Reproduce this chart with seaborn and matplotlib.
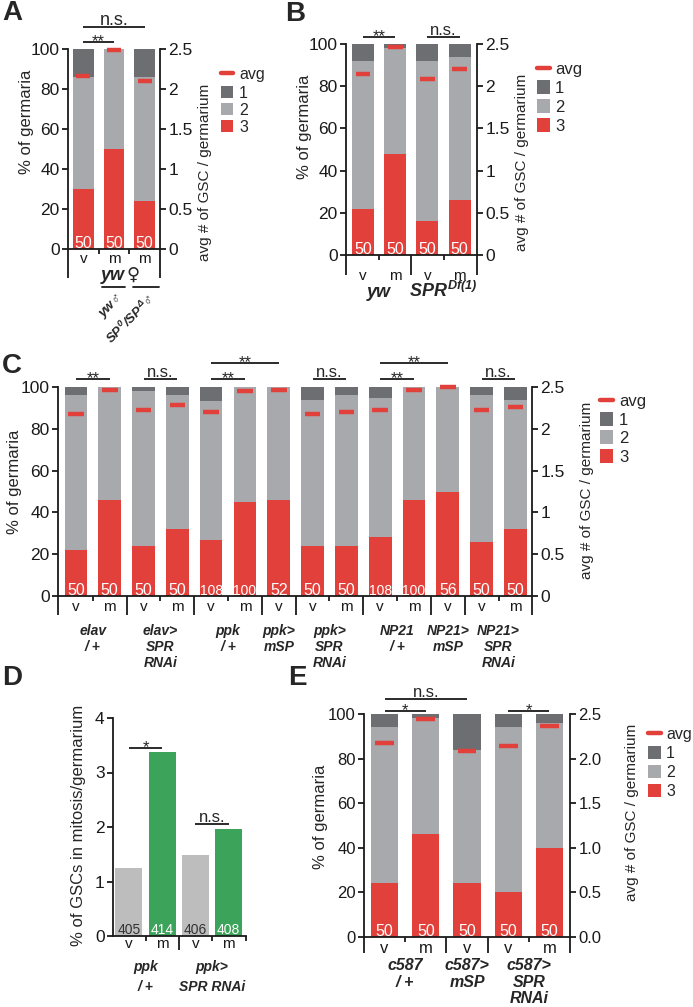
import numpy as np
import pandas as pd
import matplotlib
matplotlib.use("Agg")
import matplotlib.pyplot as plt
import seaborn as sns
from matplotlib.patches import Rectangle
from matplotlib.lines import Line2D

# ---------------- data ----------------
A_xlab = ["v", "m", "m"]
A_three = [30, 50, 24]
A_two = [56, 50, 62]
A_one = [14, 0, 14]
A_avg = [2.16, 2.49, 2.10]
A_n = ["50", "50", "50"]

B_xlab = ["v", "m", "v", "m"]
B_three = [22, 48, 16, 26]
B_two = [70, 50, 76, 68]
B_one = [8, 2, 8, 6]
B_avg = [2.14, 2.46, 2.08, 2.20]
B_n = ["50", "50", "50", "50"]
B_groups = ["yw", "$SPR^{Df(1)}$"]
B_spans = [(0, 1), (2, 3)]

C_xlab = ["v", "m", "v", "m", "v", "m", "v", "v", "m", "v", "m", "v", "v", "m"]
C_three = [22, 46, 24, 32, 27, 45, 46, 24, 24, 28, 46, 50, 26, 32]
C_two = [74, 54, 74, 64, 66.5, 55, 54, 70, 72, 66.5, 54, 50, 70, 62]
C_one = [4, 0, 2, 4, 6.5, 0, 0, 6, 4, 5.5, 0, 0, 4, 6]
C_avg = [2.18, 2.46, 2.22, 2.28, 2.20, 2.45, 2.46, 2.18, 2.20, 2.23, 2.46, 2.50, 2.22, 2.26]
C_n = ["50", "50", "50", "50", "108", "100", "52", "50", "50", "108", "100", "56", "50", "50"]
C_groups = ["elav\n/ +", "elav>\nSPR\nRNAi", "ppk\n/ +", "ppk>\nmSP", "ppk>\nSPR\nRNAi",
            "NP21\n/ +", "NP21>\nmSP", "NP21>\nSPR\nRNAi"]
C_spans = [(0, 1), (2, 3), (4, 5), (6, 6), (7, 8), (9, 10), (11, 11), (12, 13)]

D_xlab = ["v", "m", "v", "m"]
D_pct = [1.24, 3.37, 1.48, 1.97]
D_n = ["405", "414", "406", "408"]
D_groups = ["ppk\n/ +", "ppk>\nSPR RNAi"]
D_spans = [(0, 1), (2, 3)]

E_xlab = ["v", "m", "v", "v", "m"]
E_three = [24, 46, 24, 20, 40]
E_two = [70, 52, 60, 74, 56]
E_one = [6, 2, 16, 6, 4]
E_avg = [2.18, 2.44, 2.08, 2.14, 2.36]
E_n = ["50", "50", "50", "50", "50"]
E_groups = ["c587\n/ +", "c587>\nmSP", "c587>\nSPR\nRNAi"]
E_spans = [(0, 1), (2, 2), (3, 4)]

A_sig = [(0, 1, 103.5, "**"), (0, 2, 111, "n.s.")]
B_sig = [(0, 1, 103.5, "**"), (2, 3, 103.5, "n.s.")]
C_sig = [(0, 1, 104, "**"), (2, 3, 104, "n.s."), (4, 5, 104, "**"), (4, 6, 111.5, "**"),
         (7, 8, 104, "n.s."), (9, 10, 104, "**"), (9, 11, 111.5, "**"), (12, 13, 104, "n.s.")]
D_sig = [(0, 1, 3.45, "*"), (2, 3, 2.06, "n.s.")]
E_sig = [(0, 1, 101.5, "*"), (0, 2, 106.7, "n.s."), (3, 4, 101.5, "*")]

legend_labels = ["avg", "1", "2", "3"]

# ---------------- style ----------------
RED = "#e2403a"
DARK = "#6d6e71"
LIGHT = "#a7a9ac"
DGRAY = "#bdbdbd"
GREEN = "#3ba35a"
LW = 1.3

sns.set_theme(style="ticks")
plt.rcParams["font.family"] = ["Liberation Sans", "DejaVu Sans"]
plt.rcParams["mathtext.fontset"] = "custom"
plt.rcParams["mathtext.it"] = "Liberation Sans:italic:bold"
plt.rcParams["mathtext.rm"] = "Liberation Sans:italic:bold"
plt.rcParams["mathtext.bf"] = "Liberation Sans:italic:bold"
plt.rcParams["mathtext.fallback"] = "stixsans"

W, H = 693, 1007
fig = plt.figure(figsize=(W / 100, H / 100), dpi=100)


def add_ax(x0, x1, y0, y1):
    return fig.add_axes([x0 / W, 1 - y1 / H, (x1 - x0) / W, (y1 - y0) / H])


def fx(px):
    return px / W


def fy(py):
    return 1 - py / H


def ax_frac(ax, px):
    return px / (ax.get_position().height * H)


def down_line(ax, x, px):
    ax.plot([x, x], [0, -ax_frac(ax, px)], transform=ax.get_xaxis_transform(),
            color="k", lw=LW, clip_on=False, solid_capstyle="butt")


def below_text(ax, x, px, s, size, **kw):
    # px = distance (pixels) from the axis line to the first text baseline
    if "\n" in s:
        off = px - 0.74 * size * 100 / 72
        va = "top"
    else:
        off = px
        va = "baseline"
    ax.annotate(s, xy=(x, 0), xycoords=ax.get_xaxis_transform(),
                xytext=(0, -off * 0.72), textcoords="offset points",
                ha="center", va=va, fontsize=size, **kw)


def sig(ax, i, j, y, s, size):
    ax.plot([i, j], [y, y], color="k", lw=LW, clip_on=False, solid_capstyle="butt")
    off = -3.0 if "*" in s else 1.5
    ax.annotate(s, xy=((i + j) / 2, y), xycoords="data", xytext=(0, off),
                textcoords="offset points", ha="center", va="baseline",
                fontsize=size, annotation_clip=False)


def base_style(ax, tick_size=12.5):
    for s in ["top", "right"]:
        ax.spines[s].set_visible(False)
    for s in ["left", "bottom"]:
        ax.spines[s].set_linewidth(LW)
        ax.spines[s].set_color("k")
    ax.tick_params(axis="y", length=4.5, width=LW, labelsize=tick_size, pad=1.5,
                   colors="k")
    ax.set_xlabel("")
    ax.set_ylabel("")


def stacked(ax, three, two, one, avg, counts, xlab, width, xlim, right_labels,
            xpad, xsize, tick_size=12.5):
    n = len(three)
    cats = [f"bar{i}" for i in range(n)]
    df = pd.DataFrame({"bar": cats, "three": three, "two": two, "one": one})
    df["upto2"] = df["three"] + df["two"]
    df["upto1"] = df["upto2"] + df["one"]
    for col, c in [("upto1", DARK), ("upto2", LIGHT), ("three", RED)]:
        sns.barplot(data=df, x="bar", y=col, order=cats, color=c, width=width,
                    saturation=1, errorbar=None, linewidth=0, ax=ax)
    ax.set_xlim(*xlim)
    ax.set_ylim(0, 100)
    ax.set_yticks([0, 20, 40, 60, 80, 100])
    ax.set_yticklabels(["0", "20", "40", "60", "80", "100"])
    base_style(ax, tick_size)
    ax.set_xticks(np.arange(n))
    ax.set_xticklabels(xlab)
    ax.tick_params(axis="x", which="major", length=0, pad=xpad, labelsize=xsize,
                   colors="k")
    for i, c in enumerate(counts):
        ax.text(i, 0.4, c, ha="center", va="baseline", color="white",
                fontsize=11.5 if len(c) < 3 else 10)
    ax2 = ax.twinx()
    ax2.set_ylim(0, 2.5)
    ax2.set_yticks([0, 0.5, 1, 1.5, 2, 2.5])
    ax2.set_yticklabels(right_labels)
    for s in ["top", "left", "bottom"]:
        ax2.spines[s].set_visible(False)
    ax2.spines["right"].set_linewidth(LW)
    ax2.spines["right"].set_color("k")
    ax2.tick_params(axis="y", length=4.5, width=LW, labelsize=tick_size, pad=1.5,
                    colors="k")
    xs = np.arange(n)
    ax2.hlines(avg, xs - 0.23, xs + 0.23, colors=RED, linewidth=3.2,
               clip_on=False, zorder=5)
    ax2.grid(False)
    return ax2


def brackets(ax, spans, xlim, long_px, short_px, ends=True):
    minor = []
    for a, b in spans:
        for k in range(a, b):
            minor.append(k + 0.5)
    ax.set_xticks(minor, minor=True)
    ax.tick_params(axis="x", which="minor", length=short_px * 0.72, width=LW,
                   direction="out", colors="k")
    for (a, b) in spans[:-1]:
        down_line(ax, b + 0.5, long_px)
    if ends:
        down_line(ax, xlim[0], long_px)
        down_line(ax, xlim[1], long_px)


def legend(x, y_avg, ys, size, tx, fs=12):
    fig.add_artist(Line2D([fx(x), fx(x + size)], [fy(y_avg)] * 2, color=RED, lw=3.2))
    fig.text(fx(tx), fy(y_avg), legend_labels[0], ha="left", va="center_baseline",
             fontsize=fs)
    for yc, c, lab in zip(ys, [DARK, LIGHT, RED], legend_labels[1:]):
        fig.add_artist(Rectangle((fx(x), fy(yc + size / 2)), size / W, size / H,
                                 facecolor=c, edgecolor="none"))
        fig.text(fx(tx), fy(yc), lab, ha="left", va="center_baseline", fontsize=fs)


def ylab(ax, s, cx, cy, size):
    ax.set_ylabel(s, fontsize=size)
    ax.yaxis.set_label_coords(fx(cx), fy(cy), transform=fig.transFigure)
    ax.yaxis.label.set_verticalalignment("center")


def letter(s, cx, cy):
    fig.text(fx(cx), fy(cy), s, ha="center", va="center", fontsize=20,
             fontweight="bold")


# ---------------- Panel A ----------------
axA = add_ax(68, 160, 49, 249)
xlimA = (-0.5, 2.5)
axA2 = stacked(axA, A_three, A_two, A_one, A_avg, A_n, A_xlab, 0.68, xlimA,
               ["0", "0.5", "1", "1.5", "2", "2.5"], xpad=2.5, xsize=11)
brackets(axA, [(0, 2)], xlimA, 29, 5)
for i, j, y, s in A_sig:
    sig(axA, i, j, y, s, 13 if s == "n.s." else 12)
below_text(axA, 0.95, 31, "yw", 13, fontweight="bold", fontstyle="italic")
below_text(axA, 1.62, 31, "♀", 13, family=["DejaVu Sans"])
for a, b in [(0.61, 1.36), (1.62, 2.47)]:
    axA.plot([a, b], [-ax_frac(axA, 38)] * 2, transform=axA.get_xaxis_transform(),
             color="k", lw=LW, clip_on=False)
axA.annotate("yw♂", xy=(1.1, 0), xycoords=axA.get_xaxis_transform(),
             xytext=(0, -43 * 0.72), textcoords="offset points", ha="right",
             va="top", rotation=45, rotation_mode="anchor", fontsize=9.5,
             fontweight="bold", fontstyle="italic")
axA.annotate(r"$SP^{0}/SP^{\Delta}$♂", xy=(2.08, 0), xycoords=axA.get_xaxis_transform(),
             xytext=(0, -43 * 0.72), textcoords="offset points", ha="right",
             va="top", rotation=45, rotation_mode="anchor", fontsize=9.5)
ylab(axA, "% of germaria", 27, 122, 12)
ylab(axA2, "avg # of GSC / germarium", 205, 172, 11)
legend(221, 73, [92, 109, 126], 12, 239, 11.5)
letter("A", 12, 13)

# ---------------- Panel B ----------------
axB = add_ax(346, 477, 44, 255)
xlimB = (-0.53, 3.54)
axB2 = stacked(axB, B_three, B_two, B_one, B_avg, B_n, B_xlab, 0.68, xlimB,
               ["0", "0.5", "1", "1.5", "2", "2.5"], xpad=10, xsize=11)
brackets(axB, B_spans, xlimB, 20, 5)
for i, j, y, s in B_sig:
    sig(axB, i, j, y, s, 12)
for (a, b), g in zip(B_spans, B_groups):
    below_text(axB, (a + b) / 2, 42, g, 13, fontweight="bold", fontstyle="italic")
ylab(axB, "% of germaria", 305, 127, 12)
ylab(axB2, "avg # of GSC / germarium", 522, 162, 11)
legend(537, 68, [87, 106, 125], 13, 555, 12)
letter("B", 295, 14)

# ---------------- Panel C ----------------
axC = add_ax(58, 532, 387, 596)
xlimC = (-0.53, 13.49)
axC2 = stacked(axC, C_three, C_two, C_one, C_avg, C_n, C_xlab, 0.67, xlimC,
               ["0", "0.5", "1", "1.5", "2", "2.5"], xpad=3, xsize=11)
brackets(axC, C_spans, xlimC, 19, 5)
for i, j, y, s in C_sig:
    sig(axC, i, j, y, s, 12)
for (a, b), g in zip(C_spans, C_groups):
    below_text(axC, (a + b) / 2, 38, g, 10, fontweight="bold", fontstyle="italic",
               linespacing=1.2)
ylab(axC, "% of germaria", 15, 482, 12)
ylab(axC2, "avg # of GSC / germarium", 587, 490, 11)
legend(600, 400, [419, 437, 456], 13, 619, 12)
letter("C", 12, 366)

# ---------------- Panel D ----------------
axD = add_ax(113, 246, 718, 936)
xlimD = (-0.48, 3.52)
catsD = [f"bar{i}" for i in range(len(D_pct))]
dfD = pd.DataFrame({"bar": catsD, "pct": D_pct})
sns.barplot(data=dfD, x="bar", y="pct", order=catsD, hue="bar",
            palette=[DGRAY, GREEN, DGRAY, GREEN], width=0.81, saturation=1,
            errorbar=None, linewidth=0, legend=False, ax=axD)
axD.set_xlim(*xlimD)
axD.set_ylim(0, 4)
axD.set_yticks([0, 1, 2, 3, 4])
base_style(axD, 12.5)
axD.set_xticks(np.arange(4))
axD.set_xticklabels(D_xlab)
axD.tick_params(axis="x", which="major", length=0, pad=1, labelsize=11, colors="k")
brackets(axD, D_spans, xlimD, 14, 5, ends=False)
axD.set_xticks([0.5, 2.5, 3.52], minor=True)
for i, c in enumerate(D_n):
    axD.text(i, 0.03, c, ha="center", va="baseline", fontsize=10,
             color="white" if i % 2 else "#333333")
for i, j, y, s in D_sig:
    sig(axD, i, j, y, s, 12)
for (a, b), g in zip(D_spans, D_groups):
    below_text(axD, (a + b) / 2, 34, g, 10, fontweight="bold", fontstyle="italic",
               linespacing=1.6)
ylab(axD, "% of GSCs in mitosis/germarium", 78, 825, 12)
letter("D", 12, 678)

# ---------------- Panel E ----------------
axE = add_ax(364, 570, 714, 937)
xlimE = (-0.5, 4.5)
axE2 = stacked(axE, E_three, E_two, E_one, E_avg, E_n, E_xlab, 0.66, xlimE,
               ["0.0", "0.5", "1.0", "1.5", "2.0", "2.5"], xpad=3, xsize=12,
               tick_size=12)
brackets(axE, E_spans, xlimE, 16, 5)
for i, j, y, s in E_sig:
    sig(axE, i, j, y, s, 12)
for (a, b), g in zip(E_spans, E_groups):
    below_text(axE, (a + b) / 2, 33, g, 11.5, fontweight="bold", fontstyle="italic",
               linespacing=1.12)
ylab(axE, "% of germaria", 320, 817, 12)
ylab(axE2, "avg # of GSC / germarium", 632, 812, 11)
legend(648, 733, [752, 771, 790], 13, 666, 11.5)
letter("E", 297, 678)

fig.savefig("out.png", dpi=100)
